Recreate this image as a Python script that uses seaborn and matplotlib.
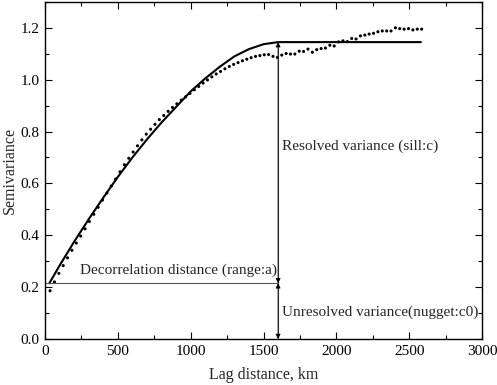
import numpy as np
import pandas as pd
import matplotlib
matplotlib.use("Agg")
import matplotlib.pyplot as plt
import seaborn as sns
from matplotlib.ticker import MultipleLocator

# empirical semivariogram (lag bins every 30 km)
lag_km = np.arange(35, 2586, 30)
semivar = [0.186, 0.22, 0.253, 0.283, 0.313, 0.342, 0.37, 0.397, 0.425, 0.453,
           0.481, 0.508, 0.536, 0.563, 0.59, 0.617, 0.645, 0.672, 0.697, 0.721,
           0.745, 0.768, 0.79, 0.809, 0.828, 0.846, 0.862, 0.878, 0.893, 0.907,
           0.921, 0.934, 0.947, 0.961, 0.974, 0.987, 0.999, 1.011, 1.022, 1.032,
           1.042, 1.051, 1.059, 1.066, 1.073, 1.079, 1.085, 1.09, 1.093, 1.096,
           1.097, 1.09, 1.086, 1.095, 1.101, 1.099, 1.099, 1.11, 1.109, 1.118,
           1.106, 1.116, 1.12, 1.122, 1.133, 1.13, 1.146, 1.15, 1.147, 1.159,
           1.157, 1.169, 1.172, 1.176, 1.179, 1.185, 1.188, 1.188, 1.188, 1.2,
           1.197, 1.195, 1.197, 1.192, 1.195, 1.195]

# fitted model curve
model_km = [30, 100, 200, 300, 400, 500, 600, 700, 800, 900, 1000, 1100,
            1200, 1300, 1400, 1500, 1600, 2580]
model_val = [0.215, 0.283, 0.375, 0.462, 0.545, 0.625, 0.70, 0.77, 0.835, 0.895,
             0.955, 1.005, 1.05, 1.09, 1.118, 1.137, 1.145, 1.145]

nugget = 0.215
sill = 1.145
range_a = 1600

emp = pd.DataFrame({"lag": lag_km, "gamma": semivar})
mod = pd.DataFrame({"lag": model_km, "gamma": model_val})

sns.set_theme(style="ticks", rc={"axes.facecolor": "white", "figure.facecolor": "white"})
plt.rcParams["font.family"] = ["Liberation Serif", "DejaVu Serif"]

fig, ax = plt.subplots(figsize=(4.97, 3.85), dpi=100)
fig.subplots_adjust(left=0.0905, right=0.970, top=0.995, bottom=0.1195)

sns.lineplot(data=mod, x="lag", y="gamma", color="black", linewidth=1.5, ax=ax)
sns.scatterplot(data=emp, x="lag", y="gamma", color="black", s=5, marker="o",
                edgecolor="none", ax=ax)

gray = "#555555"
ax.plot([0, range_a], [nugget, nugget], color=gray, linewidth=0.8)
ax.plot([range_a, range_a], [0, sill], color=gray, linewidth=0.8)
for lo, hi in [(nugget, sill), (0, nugget)]:
    ax.annotate("", xy=(range_a, hi), xytext=(range_a, lo),
                arrowprops=dict(arrowstyle="<|-|>", color="black", lw=0.6,
                                mutation_scale=7, shrinkA=0, shrinkB=0))

ax.text(240, 0.265, "Decorrelation distance (range:a)", fontsize=11, va="center")
ax.text(1630, 0.742, "Resolved variance (sill:c)", fontsize=11, va="center")
ax.text(1630, 0.104, "Unresolved variance(nugget:c0)", fontsize=11, va="center")

ax.set_xlim(0, 3000)
ax.set_ylim(0, 1.3)
ax.xaxis.set_major_locator(MultipleLocator(500))
ax.xaxis.set_minor_locator(MultipleLocator(250))
ax.yaxis.set_minor_locator(MultipleLocator(0.1))
ax.set_yticks([0.0, 0.2, 0.4, 0.6, 0.8, 1.0, 1.2])
ax.set_yticklabels(["0.0", "0.2", "0.4", "0.6", "0.8", "1.0", "1.2"])
ax.tick_params(which="both", direction="in", top=True, right=True, colors="black",
               labelsize=11, width=0.8)
ax.tick_params(which="major", length=5, pad=4)
ax.tick_params(which="minor", length=3)
for sp in ax.spines.values():
    sp.set_color("black")
    sp.set_linewidth(1.0)

ax.set_xlabel("Lag distance, km", fontsize=11.5, labelpad=7)
ax.set_ylabel("Semivariance", fontsize=11.5)
ax.yaxis.set_label_coords(-0.063, 0.5)

fig.savefig("out.png", dpi=100)
